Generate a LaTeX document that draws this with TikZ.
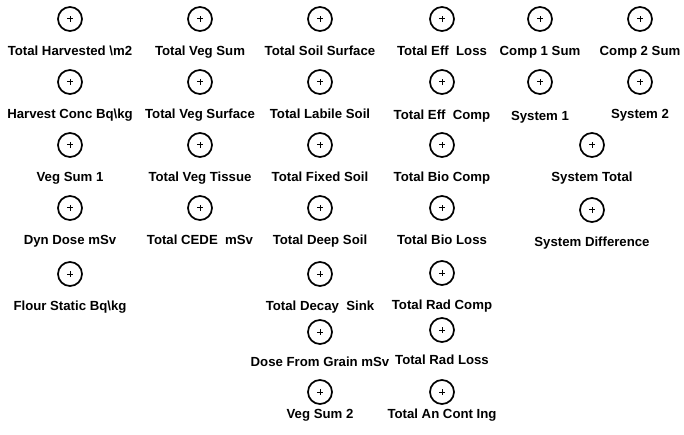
\documentclass[tikz,border=0pt]{standalone}
\usepackage{fontspec}
\setmainfont{Liberation Sans}
\tikzset{
  conv/.style={circle,draw,line width=1.7pt,minimum size=24pt,inner sep=0pt,
    path picture={\draw[line width=1pt]
      (path picture bounding box.center) +(-2.8pt,0) -- +(2.8pt,0)
      (path picture bounding box.center) +(0,-2.8pt) -- +(0,2.8pt);}},
  lbl/.style={font=\fontsize{13.2}{15}\selectfont\bfseries,anchor=base,inner sep=0pt}
}
\begin{document}
\begin{tikzpicture}[x=1pt,y=-1pt]
  \useasboundingbox (0,0) rectangle (684,435);
  % harvest and dose
  \node[conv] (harv) at (70,19) {};
  \node[lbl] (harv-l) at (70,56) {Total Harvested \textbackslash m2};
  \node[conv] (hconc) at (70,82) {};
  \node[lbl] (hconc-l) at (70,119) {Harvest Conc Bq\textbackslash kg};
  \node[conv] (vsum1) at (70,145) {};
  \node[lbl] (vsum1-l) at (70,182) {Veg Sum 1};
  \node[conv] (dyndose) at (70,208) {};
  \node[lbl] (dyndose-l) at (70,245) {Dyn Dose mSv};
  \node[conv] (flour) at (70,274) {};
  \node[lbl] (flour-l) at (70,310) {Flour Static Bq\textbackslash kg};
  % vegetation
  \node[conv] (vegsum) at (200,19) {};
  \node[lbl] (vegsum-l) at (200,56) {Total Veg Sum};
  \node[conv] (vegsurf) at (200,82) {};
  \node[lbl] (vegsurf-l) at (200,119) {Total Veg Surface};
  \node[conv] (vegtis) at (200,145) {};
  \node[lbl] (vegtis-l) at (200,182) {Total Veg Tissue};
  \node[conv] (cede) at (200,208) {};
  \node[lbl] (cede-l) at (200,245) {Total CEDE\ \ mSv};
  % soil
  \node[conv] (soilsurf) at (320,19) {};
  \node[lbl] (soilsurf-l) at (320,56) {Total Soil Surface};
  \node[conv] (labile) at (320,82) {};
  \node[lbl] (labile-l) at (320,119) {Total Labile Soil};
  \node[conv] (fixed) at (320,145) {};
  \node[lbl] (fixed-l) at (320,182) {Total Fixed Soil};
  \node[conv] (deep) at (320,208) {};
  \node[lbl] (deep-l) at (320,245) {Total Deep Soil};
  \node[conv] (decay) at (320,274) {};
  \node[lbl] (decay-l) at (320,310) {Total Decay\ \ Sink};
  \node[conv] (dosegrain) at (320,332) {};
  \node[lbl] (dosegrain-l) at (320,366) {Dose From Grain mSv};
  \node[conv] (vsum2) at (320,392) {};
  \node[lbl] (vsum2-l) at (320,418) {Veg Sum 2};
  % compartments
  \node[conv] (effloss) at (442,19) {};
  \node[lbl] (effloss-l) at (442,56) {Total Eff\ \ Loss};
  \node[conv] (effcomp) at (442,82) {};
  \node[lbl] (effcomp-l) at (442,120) {Total Eff\ \ Comp};
  \node[conv] (biocomp) at (442,145) {};
  \node[lbl] (biocomp-l) at (442,182) {Total Bio Comp};
  \node[conv] (bioloss) at (442,208) {};
  \node[lbl] (bioloss-l) at (442,245) {Total Bio Loss};
  \node[conv] (radcomp) at (442,273) {};
  \node[lbl] (radcomp-l) at (442,309) {Total Rad Comp};
  \node[conv] (radloss) at (442,330) {};
  \node[lbl] (radloss-l) at (442,364) {Total Rad Loss};
  \node[conv] (ancont) at (442,392) {};
  \node[lbl] (ancont-l) at (442,418) {Total An Cont Ing};
  % system totals
  \node[conv] (comp1) at (540,19) {};
  \node[lbl] (comp1-l) at (540,56) {Comp 1 Sum};
  \node[conv] (comp2) at (640,19) {};
  \node[lbl] (comp2-l) at (640,56) {Comp 2 Sum};
  \node[conv] (sys1) at (540,82) {};
  \node[lbl] (sys1-l) at (540,121) {System 1};
  \node[conv] (sys2) at (640,82) {};
  \node[lbl] (sys2-l) at (640,119) {System 2};
  \node[conv] (systot) at (592,145) {};
  \node[lbl] (systot-l) at (592,182) {System Total};
  \node[conv] (sysdiff) at (592,210) {};
  \node[lbl] (sysdiff-l) at (592,247) {System Difference};
\end{tikzpicture}
\end{document}
